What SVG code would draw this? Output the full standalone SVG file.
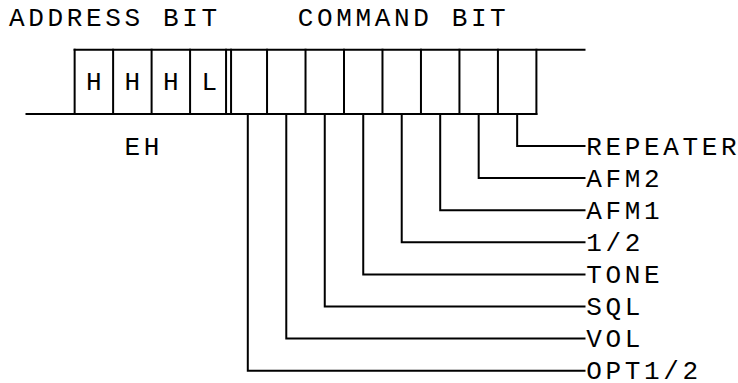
<svg xmlns="http://www.w3.org/2000/svg" width="738" height="383" viewBox="0 0 738 383">
<style>
text{font-family:"Liberation Mono","DejaVu Sans Mono",monospace;font-size:26px;fill:#000}
.ln{fill:none;stroke:#000;stroke-width:2;stroke-linecap:square;stroke-linejoin:miter}
</style>
<rect width="738" height="383" fill="#fff"/>
<g id="titles">
<text x="9.12 28.36 47.6 66.84 86.08 105.32 124.56 143.8 163.04 182.28 201.52" y="26.1">ADDRESS BIT</text>
<text x="297.72 316.96 336.2 355.44 374.68 393.92 413.16 432.4 451.64 470.88 490.12" y="26.1">COMMAND BIT</text>
</g>
<g id="register">
<path class="ln" d="M74.64,49.7H584.5M26.5,113.9H536.4"/>
<path class="ln" d="M74.64,49.7V113.9M113.12,49.7V113.9M151.6,49.7V113.9M190.08,49.7V113.9M226.06,49.7V113.9M231.06,49.7V113.9M267.04,49.7V113.9M305.52,49.7V113.9M344,49.7V113.9M382.48,49.7V113.9M420.96,49.7V113.9M459.44,49.7V113.9M497.92,49.7V113.9M536.4,49.7V113.9"/>
</g>
<g id="address-bits">
<text x="86.08" y="90.3">H</text>
<text x="124.56" y="90.3">H</text>
<text x="163.04" y="90.3">H</text>
<text x="201.52" y="90.3">L</text>
<text x="124.56 143.8" y="154.5">EH</text>
</g>
<g id="connectors">
<path class="ln" d="M517.16,113.9V146H584.5"/>
<path class="ln" d="M478.68,113.9V178.1H584.5"/>
<path class="ln" d="M440.2,113.9V210.2H584.5"/>
<path class="ln" d="M401.72,113.9V242.3H584.5"/>
<path class="ln" d="M363.24,113.9V274.4H584.5"/>
<path class="ln" d="M324.76,113.9V306.5H584.5"/>
<path class="ln" d="M286.28,113.9V338.6H584.5"/>
<path class="ln" d="M247.8,113.9V370.7H584.5"/>
</g>
<g id="label-repeater"><text x="586.32 605.56 624.8 644.04 663.28 682.52 701.76 721" y="154.5">REPEATER</text></g>
<g id="label-afm2"><text x="586.32 605.56 624.8 644.04" y="186.6">AFM2</text></g>
<g id="label-afm1"><text x="586.32 605.56 624.8 644.04" y="218.7">AFM1</text></g>
<g id="label-half"><text x="586.32 605.56 624.8" y="250.8">1/2</text></g>
<g id="label-tone"><text x="586.32 605.56 624.8 644.04" y="282.9">TONE</text></g>
<g id="label-sql"><text x="586.32 605.56 624.8" y="315">SQL</text></g>
<g id="label-vol"><text x="586.32 605.56 624.8" y="347.1">VOL</text></g>
<g id="label-opt"><text x="586.32 605.56 624.8 644.04 663.28 682.52" y="379.2">OPT1/2</text></g>
</svg>
